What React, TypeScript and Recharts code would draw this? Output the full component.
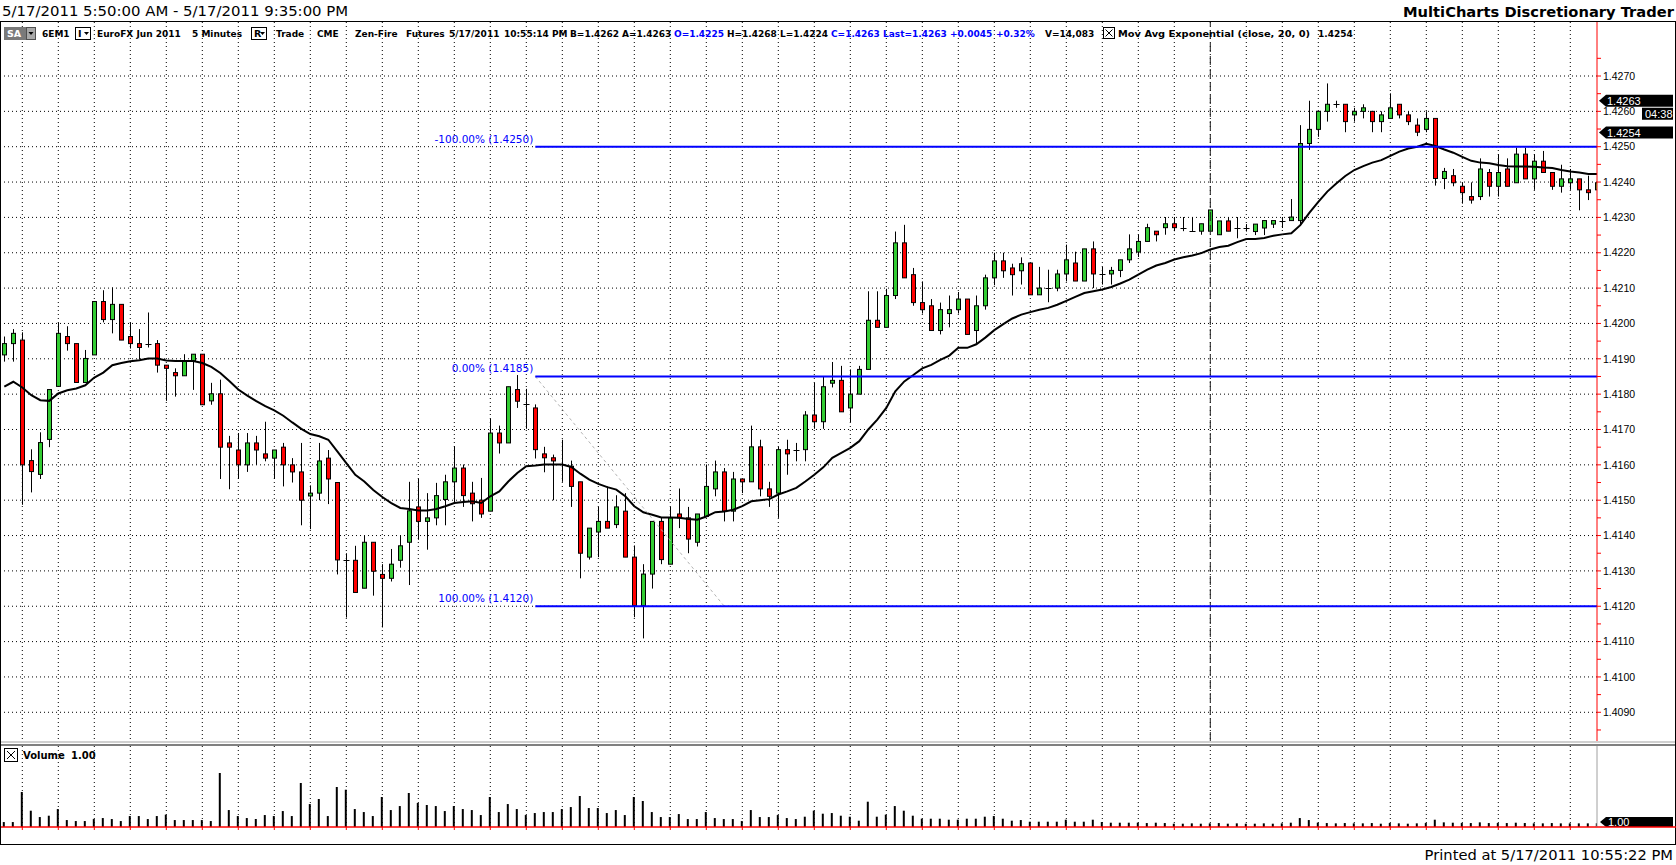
import React from 'react';
import { ComposedChart, Bar, Line, XAxis, YAxis, CartesianGrid, ReferenceLine } from 'recharts';

// ---------------- DATA (5-minute bars, 6EM1, 5/17/2011) ----------------
const OPEN = [
  1.41911, 1.41943, 1.41953, 1.41612, 1.41573, 1.41672, 1.41822, 1.41963, 1.41943, 1.41833,
  1.41911, 1.42062, 1.42011, 1.42054, 1.41963, 1.41943, 1.41943, 1.41943, 1.41882, 1.41861,
  1.41852, 1.41894, 1.41913, 1.41781, 1.41801, 1.41662, 1.41642, 1.416, 1.41662, 1.41631,
  1.41619, 1.4165, 1.416, 1.4158, 1.41512, 1.4152, 1.41619, 1.4155, 1.41331, 1.4133,
  1.41251, 1.41381, 1.4129, 1.41279, 1.4133, 1.41381, 1.41481, 1.4144, 1.4145, 1.41502,
  1.41552, 1.41591, 1.4152, 1.415, 1.41469, 1.4169, 1.41662, 1.41813, 1.41771, 1.41761,
  1.41631, 1.4162, 1.41601, 1.41596, 1.41552, 1.41339, 1.4141, 1.4144, 1.41431, 1.41469,
  1.41339, 1.41202, 1.41291, 1.4144, 1.41319, 1.41461, 1.4145, 1.41381, 1.41454, 1.41532,
  1.4158, 1.41469, 1.4156, 1.41552, 1.41651, 1.41532, 1.4152, 1.41643, 1.41643, 1.41643,
  1.41741, 1.41722, 1.41831, 1.41839, 1.41761, 1.418, 1.4187, 1.42009, 1.41989, 1.42079,
  1.42228, 1.42138, 1.42059, 1.4205, 1.4198, 1.42028, 1.42039, 1.42069, 1.4198, 1.4205,
  1.42129, 1.42177, 1.42157, 1.42149, 1.42171, 1.42081, 1.421, 1.421, 1.4214, 1.42171,
  1.4212, 1.42211, 1.4214, 1.4214, 1.4215, 1.4218, 1.42202, 1.42232, 1.42261, 1.42271,
  1.42282, 1.42271, 1.42261, 1.42261, 1.42261, 1.42251, 1.4229, 1.42271, 1.4227, 1.4226,
  1.4227, 1.42281, 1.42291, 1.42291, 1.42291, 1.42509, 1.42549, 1.426, 1.4262, 1.4262,
  1.4259, 1.426, 1.426, 1.42571, 1.4258, 1.4262, 1.4259, 1.42561, 1.42549, 1.4258,
  1.4241, 1.42418, 1.42388, 1.42359, 1.42359, 1.42427, 1.42388, 1.42437, 1.42398, 1.42479,
  1.42409, 1.42459, 1.42427, 1.42388, 1.42398, 1.42409, 1.42378, 1.42378,
];

const HIGH = [
  1.41963, 1.41984, 1.41975, 1.41644, 1.41692, 1.41813, 1.42003, 1.41992, 1.41943, 1.41925,
  1.42062, 1.42094, 1.42102, 1.42054, 1.42003, 1.41984, 1.42031, 1.41953, 1.41882, 1.41873,
  1.41913, 1.41913, 1.41913, 1.41832, 1.41841, 1.41682, 1.4169, 1.4169, 1.41682, 1.41722,
  1.41642, 1.41662, 1.41619, 1.41662, 1.41542, 1.41662, 1.41642, 1.4155, 1.4135, 1.41371,
  1.414, 1.41381, 1.41319, 1.41362, 1.414, 1.41552, 1.41561, 1.4152, 1.41549, 1.41572,
  1.41653, 1.41601, 1.41552, 1.41563, 1.41731, 1.41711, 1.41821, 1.41854, 1.41815, 1.41771,
  1.41651, 1.41629, 1.41671, 1.41612, 1.41552, 1.41421, 1.41481, 1.41539, 1.41514, 1.4152,
  1.41372, 1.41319, 1.4144, 1.4145, 1.41481, 1.41533, 1.41481, 1.41461, 1.41601, 1.41612,
  1.41591, 1.4158, 1.4156, 1.41711, 1.41671, 1.41552, 1.41651, 1.41671, 1.41662, 1.41752,
  1.41832, 1.41851, 1.41891, 1.4188, 1.4187, 1.4188, 1.42091, 1.42091, 1.42098, 1.4226,
  1.42279, 1.42157, 1.42119, 1.42069, 1.42059, 1.42079, 1.42089, 1.42069, 1.42079, 1.42138,
  1.422, 1.422, 1.42169, 1.42187, 1.42171, 1.4216, 1.42152, 1.42152, 1.42223, 1.42203,
  1.42211, 1.42232, 1.4216, 1.4216, 1.4218, 1.42252, 1.42252, 1.42282, 1.42261, 1.42301,
  1.42301, 1.42301, 1.42301, 1.42282, 1.42321, 1.4229, 1.42301, 1.42301, 1.42281, 1.42281,
  1.42291, 1.42291, 1.42301, 1.42352, 1.42561, 1.4263, 1.426, 1.42679, 1.4263, 1.4262,
  1.4261, 1.4262, 1.426, 1.426, 1.42651, 1.4262, 1.426, 1.4258, 1.426, 1.4258,
  1.4244, 1.42437, 1.42399, 1.42399, 1.42467, 1.42437, 1.42479, 1.42467, 1.42497, 1.42497,
  1.42479, 1.42488, 1.42427, 1.42449, 1.42437, 1.42409, 1.42418, 1.42418,
];

const LOW = [
  1.41892, 1.41892, 1.41487, 1.41522, 1.4156, 1.4165, 1.41822, 1.41923, 1.41833, 1.41833,
  1.41911, 1.42003, 1.41972, 1.41953, 1.41929, 1.41899, 1.41932, 1.41861, 1.41781, 1.41793,
  1.41852, 1.41812, 1.4177, 1.4177, 1.4156, 1.41531, 1.4156, 1.4158, 1.416, 1.4161,
  1.4156, 1.41539, 1.4155, 1.41429, 1.41418, 1.415, 1.41489, 1.4129, 1.41168, 1.41239,
  1.41251, 1.4123, 1.4114, 1.4127, 1.41309, 1.4126, 1.41388, 1.4136, 1.41429, 1.41429,
  1.41492, 1.41481, 1.4144, 1.4145, 1.41469, 1.41632, 1.41662, 1.41761, 1.41702, 1.41618,
  1.41579, 1.415, 1.41552, 1.41481, 1.41279, 1.41332, 1.41339, 1.41421, 1.41421, 1.41339,
  1.41169, 1.41109, 1.4125, 1.41319, 1.41319, 1.41421, 1.4135, 1.41369, 1.41454, 1.41511,
  1.4144, 1.4144, 1.4152, 1.41552, 1.41511, 1.41481, 1.4145, 1.41572, 1.4161, 1.4161,
  1.41702, 1.41702, 1.41819, 1.4175, 1.41721, 1.418, 1.4187, 1.41989, 1.41989, 1.42069,
  1.42129, 1.4205, 1.42028, 1.4198, 1.41969, 1.41989, 1.42028, 1.41969, 1.41944, 1.42039,
  1.42108, 1.42129, 1.42079, 1.4211, 1.42081, 1.42081, 1.4206, 1.42091, 1.42119, 1.4212,
  1.4212, 1.421, 1.4211, 1.4211, 1.42131, 1.42171, 1.42188, 1.42232, 1.42232, 1.42251,
  1.42261, 1.42261, 1.42261, 1.42251, 1.42261, 1.42251, 1.42261, 1.42241, 1.4226, 1.4225,
  1.4225, 1.4227, 1.4227, 1.42291, 1.42281, 1.42491, 1.42528, 1.42571, 1.4261, 1.42541,
  1.42571, 1.4258, 1.42541, 1.42541, 1.4258, 1.4258, 1.42561, 1.4253, 1.42541, 1.4239,
  1.4238, 1.42388, 1.42339, 1.42339, 1.42349, 1.42359, 1.42359, 1.42388, 1.42398, 1.42409,
  1.42378, 1.42427, 1.42378, 1.4237, 1.42378, 1.4232, 1.42349, 1.4237,
];

const CLOSE = [
  1.41943, 1.41972, 1.416, 1.41581, 1.41663, 1.41813, 1.41972, 1.41943, 1.41833, 1.41901,
  1.42062, 1.42011, 1.42054, 1.41953, 1.41943, 1.41932, 1.41943, 1.41882, 1.41873, 1.41852,
  1.41894, 1.41913, 1.4177, 1.41801, 1.4165, 1.4165, 1.416, 1.41662, 1.41642, 1.41619,
  1.41642, 1.416, 1.4158, 1.415, 1.4152, 1.41611, 1.4156, 1.41331, 1.41331, 1.41239,
  1.41381, 1.41299, 1.41279, 1.41319, 1.41371, 1.4147, 1.4144, 1.4145, 1.41513, 1.41552,
  1.41591, 1.41513, 1.4149, 1.41461, 1.4169, 1.41662, 1.41821, 1.4178, 1.41771, 1.41643,
  1.4162, 1.41611, 1.41601, 1.41539, 1.4135, 1.41421, 1.4144, 1.41421, 1.41481, 1.41339,
  1.41202, 1.41291, 1.4144, 1.41332, 1.4145, 1.4145, 1.4139, 1.41461, 1.41539, 1.4158,
  1.41469, 1.4156, 1.41552, 1.41651, 1.41532, 1.41511, 1.41643, 1.41631, 1.41643, 1.41741,
  1.41722, 1.41821, 1.41839, 1.4175, 1.418, 1.4187, 1.42009, 1.41989, 1.42079, 1.42228,
  1.42129, 1.42059, 1.42039, 1.4198, 1.42039, 1.42039, 1.42069, 1.41969, 1.4205, 1.42129,
  1.42177, 1.42149, 1.42138, 1.42169, 1.42081, 1.421, 1.421, 1.4214, 1.4218, 1.4212,
  1.42211, 1.4214, 1.4214, 1.4215, 1.4218, 1.42211, 1.42232, 1.42271, 1.42251, 1.42282,
  1.42271, 1.42271, 1.42261, 1.42282, 1.42321, 1.4229, 1.42261, 1.42271, 1.4227, 1.42281,
  1.42291, 1.42291, 1.42291, 1.42301, 1.42509, 1.42549, 1.426, 1.4262, 1.4262, 1.42571,
  1.426, 1.4261, 1.42571, 1.4259, 1.4261, 1.4259, 1.42571, 1.42541, 1.4258, 1.4241,
  1.4243, 1.42398, 1.4237, 1.42349, 1.42437, 1.42388, 1.42427, 1.42388, 1.42479, 1.42409,
  1.42459, 1.42427, 1.42388, 1.42409, 1.42409, 1.42378, 1.4237, 1.42398,
];

// Mov Avg Exponential (close, 20, 0)
const MA20 = [
  1.41821, 1.41835, 1.41819, 1.41797, 1.41783, 1.41781, 1.41802, 1.41811, 1.41816, 1.41825,
  1.41847, 1.41861, 1.41882, 1.41888, 1.41893, 1.41896, 1.41901, 1.41901, 1.41895, 1.41894,
  1.41894, 1.41894, 1.41888, 1.41877, 1.4186, 1.41837, 1.41813, 1.41796, 1.4178, 1.41766,
  1.41754, 1.41739, 1.4172, 1.41702, 1.41687, 1.41681, 1.41671, 1.41638, 1.41605, 1.41572,
  1.41553, 1.41529, 1.41509, 1.41492, 1.41478, 1.41475, 1.41471, 1.41471, 1.41475, 1.41483,
  1.41492, 1.41495, 1.41497, 1.41492, 1.41511, 1.41525, 1.41553, 1.41577, 1.41596, 1.41598,
  1.41601, 1.41601, 1.41601, 1.41594, 1.41575, 1.41558, 1.41546, 1.41537, 1.4153, 1.41511,
  1.41483, 1.41466, 1.41459, 1.41451, 1.41451, 1.4145, 1.41447, 1.41445, 1.41454, 1.41466,
  1.41468, 1.41473, 1.41483, 1.41497, 1.415, 1.41503, 1.41516, 1.41525, 1.41535, 1.41553,
  1.41572, 1.41593, 1.4162, 1.41634, 1.41648, 1.41667, 1.417, 1.41728, 1.41761, 1.41808,
  1.41836, 1.41854, 1.41873, 1.41883, 1.41897, 1.41909, 1.41931, 1.41931, 1.41941, 1.4196,
  1.41981, 1.41998, 1.42014, 1.42025, 1.42032, 1.42039, 1.42044, 1.42053, 1.42064, 1.42075,
  1.42086, 1.42091, 1.42096, 1.42103, 1.42113, 1.42124, 1.42138, 1.42152, 1.42164, 1.42171,
  1.42181, 1.42187, 1.42192, 1.42199, 1.42209, 1.42216, 1.4222, 1.4223, 1.42239, 1.42239,
  1.42242, 1.42248, 1.42252, 1.42255, 1.42278, 1.42313, 1.42344, 1.42373, 1.42396, 1.42417,
  1.42434, 1.42445, 1.42455, 1.42462, 1.42474, 1.42486, 1.42495, 1.425, 1.42508, 1.42502,
  1.42492, 1.42483, 1.42471, 1.4246, 1.42455, 1.42453, 1.42448, 1.42445, 1.42444, 1.42444,
  1.42443, 1.42441, 1.4244, 1.42434, 1.4243, 1.42427, 1.42423, 1.42423,
];

const VOLUME = [
  99, 99, 700, 326, 199, 226, 359, 139, 119, 119,
  159, 179, 159, 119, 219, 219, 159, 219, 246, 139,
  139, 139, 139, 119, 1080, 339, 219, 179, 159, 239,
  219, 319, 219, 880, 459, 560, 219, 800, 746, 359,
  299, 219, 600, 339, 419, 680, 480, 440, 419, 319,
  419, 359, 339, 239, 600, 299, 459, 359, 239, 279,
  299, 299, 359, 399, 620, 379, 379, 279, 339, 239,
  600, 520, 299, 199, 199, 259, 159, 159, 299, 179,
  159, 159, 119, 339, 199, 199, 239, 179, 159, 206,
  326, 266, 279, 226, 206, 126, 506, 206, 246, 419,
  326, 226, 166, 166, 166, 146, 146, 166, 166, 206,
  219, 166, 126, 139, 106, 106, 106, 106, 146, 106,
  106, 146, 99, 86, 86, 86, 86, 79, 86, 79,
  66, 66, 73, 66, 73, 79, 66, 73, 66, 66,
  73, 66, 73, 86, 179, 139, 86, 79, 73, 79,
  73, 73, 79, 66, 79, 73, 66, 73, 79, 146,
  93, 86, 79, 79, 93, 79, 79, 79, 86, 79,
  73, 73, 79, 73, 73, 73, 73, 73,
];

// price axis ticks (every 0.0005, labelled every 0.0010)
const Y_TICKS = [
  1.4085, 1.409, 1.4095, 1.41, 1.4105, 1.411, 1.4115, 1.412, 1.4125, 1.413,
  1.4135, 1.414, 1.4145, 1.415, 1.4155, 1.416, 1.4165, 1.417, 1.4175, 1.418,
  1.4185, 1.419, 1.4195, 1.42, 1.4205, 1.421, 1.4215, 1.422, 1.4225, 1.423,
  1.4235, 1.424, 1.4245, 1.425, 1.4255, 1.426, 1.4265, 1.427, 1.4275,
];
const GRID_Y = [
  1.409, 1.41, 1.411, 1.412, 1.413, 1.414, 1.415, 1.416, 1.417, 1.418,
  1.419, 1.42, 1.421, 1.422, 1.423, 1.424, 1.425, 1.426, 1.427,
];
const GRID_X = [
  2, 6, 10, 14, 18, 22, 26, 30, 34, 38, 42, 46, 50, 54, 58, 62, 66, 70, 74, 78, 82, 86,
  90, 94, 98, 102, 106, 110, 114, 118, 122, 126, 130, 134, 138, 142, 146, 150, 154, 158,
  162, 166, 170, 174,
];

const FIB_LEVELS = [
  { price: 1.425, label: '-100.00% (1.4250)' },
  { price: 1.4185, label: '0.00% (1.4185)' },
  { price: 1.412, label: '100.00% (1.4120)' },
];
const FIB_FROM_BAR = 59;
const FIB_TO_BAR = 177;
const TREND_FROM = { bar: 59, price: 1.4185 };
const TREND_TO = { bar: 80, price: 1.412 };
const SESSION_BAR = 134;
const LAST_PRICE = 1.4263;
const MA_LAST = 1.4254;
const BAR_TIMER = '04:38';

// header info line items
const INFO_ITEMS: { text: string; x: number; blue?: boolean; w?: number }[] = [
  { text: '6EM1', x: 42 },
  { text: 'EuroFX Jun 2011', x: 97 },
  { text: '5 Minutes', x: 192 },
  { text: 'Trade', x: 276 },
  { text: 'CME', x: 317 },
  { text: 'Zen-Fire', x: 355 },
  { text: 'Futures', x: 406 },
  { text: '5/17/2011', x: 449 },
  { text: '10:55:14 PM', x: 504 },
  { text: 'B=1.4262', x: 570 },
  { text: 'A=1.4263', x: 622 },
  { text: 'O=1.4225', x: 674, blue: true },
  { text: 'H=1.4268', x: 727 },
  { text: 'L=1.4224', x: 780 },
  { text: 'C=1.4263', x: 831, blue: true },
  { text: 'Last=1.4263', x: 883, blue: true },
  { text: '+0.0045', x: 950, blue: true },
  { text: '+0.32%', x: 996, blue: true },
  { text: 'V=14,083', x: 1045 },
  { text: 'Mov Avg Exponential (close, 20, 0)', x: 1118, w: 192 },
  { text: '1.4254', x: 1318 },
];

const data = OPEN.map((o, i) => ({
  i,
  o,
  h: HIGH[i],
  l: LOW[i],
  c: CLOSE[i],
  ma: MA20[i],
  v: VOLUME[i],
}));

// ---------------- LAYOUT ----------------
const W = 1676;
const H = 865;
const X_DOMAIN: [number, number] = [-0.4778, 176.967];
const PRICE_DOMAIN: [number, number] = [1.408188, 1.4285276];
const GREEN = '#33CC33';
const RED = '#FF0000';
const BLUE = '#0000FF';

const Candle = (props: any) => {
  const { x, y, width, height, payload } = props;
  if (x == null || y == null || !payload) return null;
  const cx = x + width / 2;
  const top = Math.min(y, y + height);
  const bot = Math.max(y, y + height);
  const { o, h, l, c } = payload;
  const span = h - l;
  const py = (v: number) => (span > 0 ? top + ((h - v) / span) * (bot - top) : top);
  const yo = py(o);
  const yc = py(c);
  const wx = Math.floor(cx) + 0.5;
  return (
    <g>
      <line x1={wx} x2={wx} y1={top} y2={bot} stroke="#000" strokeWidth={1} />
      {o === c ? (
        <line x1={wx - 3} x2={wx + 3} y1={Math.round(yo) + 0.5} y2={Math.round(yo) + 0.5} stroke="#000" strokeWidth={1} />
      ) : (
        <rect
          x={wx - 2}
          y={Math.min(yo, yc)}
          width={4}
          height={Math.max(1, Math.abs(yc - yo))}
          fill={c > o ? GREEN : RED}
          stroke="#000"
          strokeWidth={1}
        />
      )}
    </g>
  );
};

const fmtPrice = (v: number) => (Math.round(v * 10000) % 10 === 0 ? v.toFixed(4) : '');

const fibLabel = (text: string) => (p: any) => {
  const vb = p && p.viewBox ? p.viewBox : { x: 0, y: 0 };
  return (
    <text x={vb.x - 2} y={vb.y - 4} textAnchor="end" fill={BLUE} fontSize={10.5} fontFamily="DejaVu Sans, sans-serif">
      {text}
    </text>
  );
};

const priceMarker = (text: string, extra?: string) => (p: any) => {
  const vb = p && p.viewBox ? p.viewBox : { x: 0, y: 0, width: 0 };
  const xr = vb.x + vb.width;
  const y = vb.y;
  return (
    <g>
      <polygon
        points={`${xr + 2},${y} ${xr + 9},${y - 6} ${xr + 76},${y - 6} ${xr + 76},${y + 6} ${xr + 9},${y + 6}`}
        fill="#000"
      />
      <text x={xr + 10} y={y + 4} fill="#fff" fontSize={11} fontFamily="Liberation Sans, Arial, sans-serif">
        {text}
      </text>
      {extra ? (
        <g>
          <rect x={xr + 45} y={y + 7} width={31} height={12} fill="#000" />
          <text x={xr + 48} y={y + 17} fill="#fff" fontSize={11} fontFamily="Liberation Sans, Arial, sans-serif">
            {extra}
          </text>
        </g>
      ) : null}
    </g>
  );
};

const volMarker = (p: any) => {
  const vb = p && p.viewBox ? p.viewBox : { x: 0, y: 0, width: 0 };
  const xr = vb.x + vb.width;
  const y = vb.y;
  return (
    <g>
      <polygon
        points={`${xr + 3},${y - 5} ${xr + 9},${y - 10} ${xr + 76},${y - 10} ${xr + 76},${y} ${xr + 9},${y}`}
        fill="#000"
      />
      <text x={xr + 11} y={y - 1} fill="#fff" fontSize={11} fontFamily="Liberation Sans, Arial, sans-serif">
        1.00
      </text>
    </g>
  );
};

const INFO_FONT = 'DejaVu Sans, sans-serif';

const DropBox = ({ x, letter }: { x: number; letter: string }) => (
  <g>
    <rect x={x + 0.5} y={27.5} width={15} height={12} fill="#fff" stroke="#000" />
    <text x={x + 3} y={37} fontFamily={INFO_FONT} fontWeight="bold" fontSize={9.5} fill="#000">
      {letter}
    </text>
    <polygon points={`${x + 9},${32} ${x + 14},${32} ${x + 11.5},${35}`} fill="#000" />
  </g>
);

export default function App() {
  return (
    <div style={{ position: 'absolute', left: 0, top: 0, width: W, height: H, background: '#fff', overflow: 'hidden' }}>
      {/* price panel */}
      <div style={{ position: 'absolute', left: 0, top: 22 }}>
        <ComposedChart width={W} height={719} data={data} margin={{ top: 0, right: 0, bottom: 0, left: 0 }}>
          <CartesianGrid stroke="#000" strokeDasharray="1 3" horizontalValues={GRID_Y} verticalValues={GRID_X} />
          <XAxis type="number" dataKey="i" domain={X_DOMAIN} allowDataOverflow hide ticks={GRID_X} />
          <YAxis
            orientation="right"
            width={79}
            domain={PRICE_DOMAIN}
            allowDataOverflow
            ticks={Y_TICKS}
            interval={0}
            tickSize={4}
            tickMargin={2}
            axisLine={{ stroke: '#FF0000' }}
            tickLine={{ stroke: '#FF0000' }}
            tick={{ fontSize: 10.5, fontFamily: 'Liberation Sans, Arial, sans-serif', fill: '#000' }}
            tickFormatter={fmtPrice}
          />
          <Bar dataKey={(d: any) => [d.l, d.h]} shape={Candle} barSize={7} isAnimationActive={false} />
          <Line
            dataKey="ma"
            type="linear"
            stroke="#000"
            strokeWidth={2}
            dot={false}
            activeDot={false}
            isAnimationActive={false}
          />
          <ReferenceLine x={SESSION_BAR} stroke="#202020" strokeDasharray="9 4" />
          <ReferenceLine
            segment={[
              { x: TREND_FROM.bar, y: TREND_FROM.price },
              { x: TREND_TO.bar, y: TREND_TO.price },
            ]}
            stroke="#B4B4B4"
            strokeDasharray="3 3"
            ifOverflow="visible"
          />
          {FIB_LEVELS.map((f) => (
            <ReferenceLine
              key={f.label}
              segment={[
                { x: FIB_FROM_BAR, y: f.price },
                { x: FIB_TO_BAR, y: f.price },
              ]}
              stroke={BLUE}
              strokeWidth={2}
              ifOverflow="hidden"
              label={fibLabel(f.label)}
            />
          ))}
          <ReferenceLine y={MA_LAST} stroke="none" ifOverflow="visible" label={priceMarker('1.4254')} />
          <ReferenceLine y={LAST_PRICE} stroke="none" ifOverflow="visible" label={priceMarker('1.4263', BAR_TIMER)} />
        </ComposedChart>
      </div>

      {/* volume panel */}
      <div style={{ position: 'absolute', left: 0, top: 746 }}>
        <ComposedChart width={W} height={98} data={data} margin={{ top: 0, right: 0, bottom: 0, left: 0 }}>
          <CartesianGrid stroke="#000" strokeDasharray="1 3" horizontal={false} verticalValues={GRID_X} />
          <XAxis
            type="number"
            dataKey="i"
            domain={X_DOMAIN}
            allowDataOverflow
            ticks={GRID_X}
            height={17}
            axisLine={{ stroke: '#FF0000', strokeWidth: 1.5 }}
            tickLine={{ stroke: '#FF0000' }}
            tickSize={3}
            tickFormatter={() => ''}
          />
          <YAxis
            orientation="right"
            width={79}
            domain={[0, 1620]}
            allowDataOverflow
            tick={false}
            tickLine={false}
            axisLine={{ stroke: '#A0A0A0' }}
          />
          <Bar dataKey="v" fill="#000" barSize={2} isAnimationActive={false} />
          <ReferenceLine y={0} stroke="none" ifOverflow="visible" label={volMarker} />
        </ComposedChart>
      </div>

      {/* overlay: titles, frame, info line */}
      <svg width={W} height={H} style={{ position: 'absolute', left: 0, top: 0, pointerEvents: 'none' }}>
        <text x={2} y={16} fontFamily="DejaVu Sans, sans-serif" fontSize={14.9} fill="#000">
          5/17/2011 5:50:00 AM - 5/17/2011 9:35:00 PM
        </text>
        <text x={1674} y={17} textAnchor="end" fontFamily="DejaVu Sans, sans-serif" fontWeight="bold" fontSize={14.7} fill="#000">
          MultiCharts Discretionary Trader
        </text>

        <rect x={0.5} y={21.5} width={1675} height={823} fill="none" stroke="#000" />
        <rect x={1} y={741} width={1674} height={2} fill="#D0D0D0" />
        <rect x={1} y={744} width={1674} height={2} fill="#808080" />
        <line x1={1597} x2={1676} y1={827} y2={827} stroke="#FF0000" strokeWidth={1.5} />

        {/* info line */}
        <rect x={4} y={27} width={22} height={13} fill="#7A7A7A" />
        <text x={7} y={37} fontFamily={INFO_FONT} fontWeight="bold" fontSize={9.5} fill="#fff">SA</text>
        <rect x={26.5} y={27.5} width={9} height={12} fill="#A8A8A8" stroke="#505050" />
        <polygon points="28.5,32 33.5,32 31,35" fill="#000" />
        <DropBox x={75} letter="I" />
        <DropBox x={251} letter="R" />
        <rect x={1103.5} y={27.5} width={11} height={11} fill="#fff" stroke="#000" />
        <path d="M1105.5,29.5 L1112.5,36.5 M1112.5,29.5 L1105.5,36.5" stroke="#000" />
        {INFO_ITEMS.map((it) => (
          <text
            key={it.text}
            x={it.x}
            y={37}
            textLength={it.w}
            lengthAdjust={it.w ? 'spacingAndGlyphs' : undefined}
            fontFamily={INFO_FONT}
            fontWeight="bold"
            fontSize={9}
            fill={it.blue ? BLUE : '#000'}
          >
            {it.text}
          </text>
        ))}

        {/* volume title */}
        <rect x={4.5} y={748.5} width={13} height={13} fill="#fff" stroke="#000" />
        <path d="M7,751 L15,759 M15,751 L7,759" stroke="#000" />
        <text x={23} y={759} fontFamily={INFO_FONT} fontWeight="bold" fontSize={10} fill="#000">Volume</text>
        <text x={71} y={759} fontFamily={INFO_FONT} fontWeight="bold" fontSize={10} fill="#000">1.00</text>

        <text x={1673} y={860} textAnchor="end" fontFamily="DejaVu Sans, sans-serif" fontSize={14.7} fill="#000">
          Printed at 5/17/2011 10:55:22 PM
        </text>
      </svg>
    </div>
  );
}
